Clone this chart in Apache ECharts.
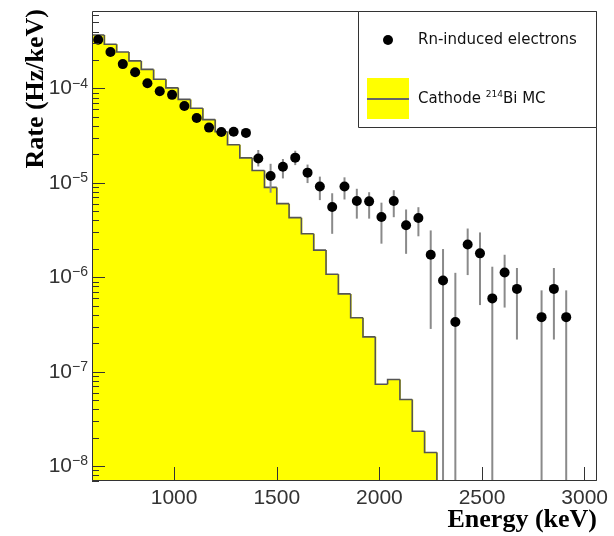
<!DOCTYPE html>
<html>
<head>
<meta charset="utf-8">
<script src="https://cdn.jsdelivr.net/npm/echarts@6/dist/echarts.min.js"></script>
<style>
  html, body { margin: 0; padding: 0; background: #fff; }
  #chart { width: 614px; height: 536px; }
</style>
</head>
<body>
<div id="chart"></div>
<script>
// Energy spectrum, 60 keV bins from 600 to 3060 keV
const binEdges = [600, 660, 720, 780, 840, 900, 960, 1020, 1080, 1140, 1200, 1260, 1320, 1380,
  1440, 1500, 1560, 1620, 1680, 1740, 1800, 1860, 1920, 1980, 2040, 2100, 2160, 2220, 2280,
  2340, 2400, 2460, 2520, 2580, 2640, 2700, 2760, 2820, 2880, 2940, 3000, 3060];

// Cathode 214Bi Monte Carlo rate per bin (Hz/keV)
const mcRate = [3.7e-4, 2.95e-4, 2.45e-4, 1.97e-4, 1.6e-4, 1.26e-4, 1.02e-4, 7.7e-5, 6.2e-5,
  4.7e-5, 3.5e-5, 2.55e-5, 1.85e-5, 1.36e-5, 9.0e-6, 6.05e-6, 4.3e-6, 2.9e-6, 1.95e-6, 1.08e-6,
  6.7e-7, 3.75e-7, 2.35e-7, 7.4e-8, 8.3e-8, 5.1e-8, 2.35e-8, 1.4e-8,
  0, 0, 0, 0, 0, 0, 0, 0, 0, 0, 0, 0, 0];

// Rn-induced electrons: bin centre, rate, upper and lower ends of the error bar
const rnEnergy = [630, 690, 750, 810, 870, 930, 990, 1050, 1110, 1170, 1230, 1290, 1350,
  1410, 1470, 1530, 1590, 1650, 1710, 1770, 1830, 1890, 1950, 2010, 2070, 2130, 2190,
  2250, 2310, 2370, 2430, 2490, 2550, 2610, 2670, 2790, 2850, 2910];
const rnRate = [3.3e-4, 2.45e-4, 1.82e-4, 1.49e-4, 1.14e-4, 9.4e-5, 8.6e-5, 6.55e-5, 4.9e-5,
  3.87e-5, 3.48e-5, 3.5e-5, 3.4e-5,
  1.82e-5, 1.19e-5, 1.49e-5, 1.86e-5, 1.29e-5, 9.2e-6, 5.57e-6, 9.2e-6, 6.47e-6, 6.4e-6,
  4.37e-6, 6.45e-6, 3.58e-6, 4.27e-6,
  1.74e-6, 9.3e-7, 3.37e-7, 2.23e-6, 1.8e-6, 6.0e-7, 1.13e-6, 7.57e-7, 3.8e-7, 7.57e-7, 3.8e-7];
const rnUpper = [null, null, null, null, null, null, null, null, null, null, null, null, null,
  2.24e-5, 1.6e-5, 1.8e-5, 2.2e-5, 1.57e-5, 1.17e-5, 7.8e-6, 1.15e-5, 8.7e-6, 8.0e-6,
  6.2e-6, 8.4e-6, 5.25e-6, 5.55e-6,
  3.15e-6, 2.0e-6, 1.12e-6, 3.3e-6, 3.0e-6, 1.3e-6, 1.74e-6, 1.26e-6, 7.3e-7, 1.26e-6, 7.3e-7];
const rnLower = [null, null, null, null, null, null, null, null, null, null, null, null, null,
  1.5e-5, 7.9e-6, 1.12e-5, 1.55e-5, 1.0e-5, 6.6e-6, 2.9e-6, 6.7e-6, 4.2e-6, 4.2e-6,
  2.28e-6, 4.35e-6, 1.78e-6, 2.73e-6,
  2.85e-7, 0, 0, 1.06e-6, 5.1e-7, 0, 4.8e-7, 2.2e-7, 0, 2.2e-7, 0];

// Axis ticks
const xTicks = [1000, 1500, 2000, 2500, 3000];
const yDecades = [1e-8, 1e-7, 1e-6, 1e-5, 1e-4];
const yMin = 6.98e-9;
const yMax = 6.65e-4;

// minor log ticks (2..9 x 10^n) inside the visible range
const yMinor = [];
for (let e = -9; e <= -4; e++) {
  for (let m = 2; m <= 9; m++) {
    const v = m * Math.pow(10, e);
    if (v >= yMin && v <= yMax) yMinor.push(v);
  }
}

const histData = mcRate.map((v, i) => [binEdges[i], binEdges[i + 1], v, i > 0 ? mcRate[i - 1] : 0]);
const pointData = rnEnergy.map((e, i) => [e, rnRate[i]]);
const barData = [];
rnEnergy.forEach((e, i) => {
  if (rnUpper[i] != null) barData.push([e, rnLower[i], rnUpper[i]]);
});

function clampY(v) {
  return v > yMin ? v : yMin;
}

// one histogram bin: yellow fill plus the stepped outline
function renderHist(params, api) {
  const x0 = api.value(0), x1 = api.value(1);
  const v = api.value(2), vp = api.value(3);
  const top = api.coord([x0, clampY(v)]);
  const topR = api.coord([x1, clampY(v)]);
  const prev = api.coord([x0, clampY(vp)]);
  const base = api.coord([x0, yMin]);
  const children = [];
  if (v > 0) {
    children.push({
      type: 'rect',
      z2: 0,
      shape: { x: top[0], y: top[1], width: topR[0] - top[0] + 1, height: base[1] - top[1] },
      style: { fill: '#ffff00' }
    });
  }
  children.push({
    type: 'polyline',
    z2: 10,
    shape: { points: [prev, top, topR] },
    style: { stroke: '#555', lineWidth: 1.6, fill: null }
  });
  return { type: 'group', children: children };
}

function renderBars(params, api) {
  const x = api.value(0);
  const lo = api.coord([x, clampY(api.value(1))]);
  const hi = api.coord([x, clampY(api.value(2))]);
  return {
    type: 'line',
    shape: { x1: lo[0], y1: lo[1], x2: hi[0], y2: hi[1] },
    style: { stroke: '#8a8a8a', lineWidth: 2 }
  };
}

function decadeLabel(v) {
  const e = Math.round(Math.log10(v));
  return '{b|10}{s|' + (e < 0 ? '\u2212' : '') + Math.abs(e) + '}';
}

const chart = echarts.init(document.getElementById('chart'), null, { renderer: 'canvas' });

const option = {
  animation: false,
  backgroundColor: '#fff',
  grid: { left: 92, right: 17, top: 11, bottom: 55 },
  xAxis: {
    type: 'value',
    min: 600,
    max: 3060,
    z: 5,
    axisLine: { show: false },
    splitLine: { show: false },
    axisTick: {
      show: true, inside: true, length: 14, customValues: xTicks,
      lineStyle: { color: '#333', width: 1 }
    },
    axisLabel: {
      customValues: xTicks, margin: 7,
      formatter: v => String(v),
      fontFamily: 'Liberation Sans', fontSize: 21, color: '#333'
    }
  },
  yAxis: [
    {
      type: 'log',
      logBase: 10,
      min: yMin,
      max: yMax,
      z: 5,
      axisLine: { show: false },
      splitLine: { show: false },
      axisTick: {
        show: true, inside: true, length: 13, customValues: yDecades,
        lineStyle: { color: '#333', width: 1 }
      },
      axisLabel: {
        customValues: yDecades,
        margin: 4,
        formatter: decadeLabel,
        rich: {
          b: { fontFamily: 'Liberation Sans', fontSize: 21, color: '#333', lineHeight: 24 },
          s: { fontFamily: 'Liberation Sans', fontSize: 14, color: '#333', lineHeight: 14, verticalAlign: 'top' }
        }
      }
    },
    {
      type: 'log',
      logBase: 10,
      min: yMin,
      max: yMax,
      position: 'left',
      offset: 0,
      z: 5,
      axisLine: { show: false },
      splitLine: { show: false },
      axisTick: {
        show: true, inside: true, length: 7, customValues: yMinor,
        lineStyle: { color: '#333', width: 1 }
      },
      axisLabel: { show: false }
    }
  ],
  series: [
    {
      name: 'Cathode 214Bi MC',
      type: 'custom',
      renderItem: renderHist,
      data: histData,
      encode: { x: [0, 1], y: [2] },
      clip: true,
      z: 1
    },
    {
      name: 'Rn-induced electrons errors',
      type: 'custom',
      renderItem: renderBars,
      data: barData,
      encode: { x: [0], y: [1, 2] },
      clip: true,
      z: 2
    },
    {
      name: 'Rn-induced electrons',
      type: 'scatter',
      data: pointData,
      symbol: 'circle',
      symbolSize: 10,
      itemStyle: { color: '#000', opacity: 1 },
      z: 3
    }
  ],
  graphic: [
    {
      type: 'rect', z: 100,
      shape: { x: 92.5, y: 11.5, width: 504, height: 469 },
      style: { fill: null, stroke: '#333', lineWidth: 1 }
    },
    {
      type: 'rect', z: 101,
      shape: { x: 358.5, y: 11.5, width: 238, height: 116 },
      style: { fill: '#fff', stroke: '#333', lineWidth: 1 }
    },
    {
      type: 'circle', z: 102,
      shape: { cx: 388, cy: 40, r: 5 },
      style: { fill: '#000' }
    },
    {
      type: 'rect', z: 102,
      shape: { x: 367, y: 78, width: 42, height: 41 },
      style: { fill: '#ffff00' }
    },
    {
      type: 'line', z: 103,
      shape: { x1: 367, y1: 99, x2: 409, y2: 99 },
      style: { stroke: '#666', lineWidth: 2 }
    },
    {
      type: 'text', z: 103, x: 418, y: 40,
      style: {
        text: 'Rn-induced electrons',
        fontFamily: 'DejaVu Sans', fontSize: 15, fill: '#111',
        align: 'left', verticalAlign: 'middle'
      }
    },
    {
      type: 'text', z: 103, x: 418, y: 99,
      style: {
        text: '{b|Cathode }{s|214}{b|Bi MC}',
        align: 'left', verticalAlign: 'middle',
        rich: {
          b: { fontFamily: 'DejaVu Sans', fontSize: 15, fill: '#111', lineHeight: 18 },
          s: { fontFamily: 'DejaVu Sans', fontSize: 9, fill: '#111', lineHeight: 10, verticalAlign: 'top' }
        }
      }
    },
    {
      type: 'text', z: 103, x: 597, y: 520,
      style: {
        text: 'Energy (keV)',
        fontFamily: 'Liberation Serif', fontWeight: 'bold', fontSize: 26, fill: '#000',
        align: 'right', verticalAlign: 'middle'
      }
    },
    {
      type: 'text', z: 103, x: 36, y: 9, rotation: Math.PI / 2,
      style: {
        text: 'Rate (Hz/keV)',
        fontFamily: 'Liberation Serif', fontWeight: 'bold', fontSize: 26, fill: '#000',
        align: 'right', verticalAlign: 'middle'
      }
    }
  ]
};

chart.setOption(option);
</script>
</body>
</html>
